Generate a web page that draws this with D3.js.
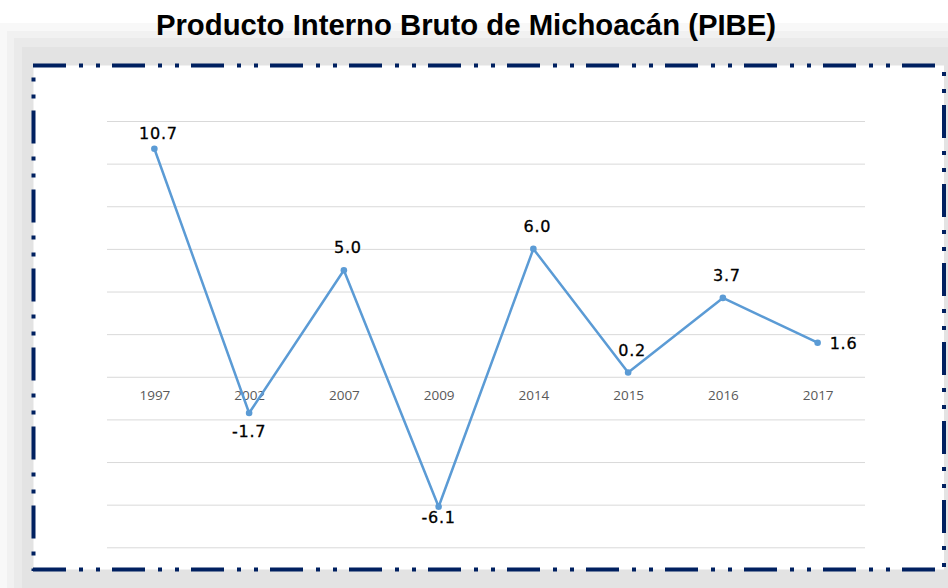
<!DOCTYPE html>
<html>
<head>
<meta charset="utf-8">
<script src="https://cdn.jsdelivr.net/npm/d3@7"></script>
<style>
  html, body { margin: 0; padding: 0; background: #ffffff; }
  svg { display: block; }
</style>
</head>
<body>
<svg id="chart" width="948" height="588"></svg>
<script>
const title = "Producto Interno Bruto de Michoacán (PIBE)";
const years = ["1997", "2002", "2007", "2009", "2014", "2015", "2016", "2017"];
const pibe = [10.7, -1.7, 5.0, -6.1, 6.0, 0.2, 3.7, 1.6];
const labelSide = ["top", "bottom", "top", "bottom", "top", "top", "top", "right"];
const gridTicks = [-8, -6, -4, -2, 0, 2, 4, 6, 8, 10, 12];

(function () {
const svg = d3.select("#chart");

// soft grey frame behind the card
const layers = [
  {x: 0,  y: 23, c: "#f8f8f8"},
  {x: 7,  y: 31, c: "#f1f1f1"},
  {x: 14, y: 38, c: "#eaeaea"},
  {x: 22, y: 47, c: "#e3e3e3"}
];
layers.forEach(l => {
  svg.append("rect").attr("x", l.x).attr("y", l.y)
    .attr("width", 948 - l.x).attr("height", 588 - l.y).attr("fill", l.c);
});

// white card
const card = {x0: 33.5, y0: 65.5, x1: 944, y1: 569.5};
svg.append("rect").attr("x", card.x0).attr("y", card.y0)
  .attr("width", card.x1 - card.x0).attr("height", card.y1 - card.y0)
  .attr("fill", "#ffffff");

// title
svg.append("text")
  .attr("x", 466).attr("y", 35)
  .attr("text-anchor", "middle")
  .attr("font-family", "'Liberation Sans', Arial, sans-serif")
  .attr("font-weight", "bold")
  .attr("font-size", 29.3)
  .attr("fill", "#000000")
  .text(title);

// scales
const x = d3.scalePoint().domain(years).range([107, 865]).padding(0.5);
const y = d3.scaleLinear().domain([-8, 12]).range([547.3, 121]);

// gridlines
const grid = svg.append("g").attr("transform", "translate(107,0)")
  .call(d3.axisLeft(y).tickValues(gridTicks).tickSize(-(865 - 107)).tickFormat(""));
grid.select(".domain").remove();
grid.selectAll(".tick line").attr("stroke", "#d9d9d9").attr("stroke-width", 1);

// category axis at zero
const xAxis = svg.append("g").attr("transform", `translate(0,${y(0)})`)
  .call(d3.axisBottom(x).tickSize(0).tickPadding(14));
xAxis.select(".domain").remove();
xAxis.selectAll(".tick text")
  .attr("font-family", "'Open Sans', 'Liberation Sans', sans-serif")
  .attr("font-size", 13.5)
  .attr("fill", "#595959");

// line
const data = years.map((yr, i) => ({yr, v: pibe[i], side: labelSide[i]}));
svg.append("path").datum(data)
  .attr("fill", "none")
  .attr("stroke", "#5b9bd5")
  .attr("stroke-width", 2.5)
  .attr("stroke-linejoin", "round")
  .attr("d", d3.line().x(d => x(d.yr)).y(d => y(d.v)));

svg.selectAll("circle.pt").data(data).enter().append("circle")
  .attr("class", "pt")
  .attr("cx", d => x(d.yr)).attr("cy", d => y(d.v))
  .attr("r", 3.3).attr("fill", "#5b9bd5");

// data labels (kept inside the plot area)
const plotTop = y.range()[1], plotBottom = y.range()[0];
function labelY(d) {
  const py = y(d.v);
  if (d.side === "top") return Math.max(py - 17, plotTop + 18);
  if (d.side === "bottom") return Math.min(py + 24, plotBottom - 24);
  return py + 6;
}
svg.selectAll("text.lbl").data(data).enter().append("text")
  .attr("class", "lbl")
  .attr("x", d => d.side === "right" ? x(d.yr) + 12 : x(d.yr) + (d.side === "top" ? 4 : 0))
  .attr("y", labelY)
  .attr("text-anchor", d => d.side === "right" ? "start" : "middle")
  .attr("font-family", "'DejaVu Sans', sans-serif")
  .attr("font-size", 16)
  .attr("letter-spacing", 0.8)
  .attr("fill", "#000000")
  .attr("stroke", "#000000")
  .attr("stroke-width", 0.3)
  .text(d => d.v.toFixed(1));

// dash-dot border
const dash = "33 13 4 13 4 12";
const border = svg.append("g").attr("stroke", "#002060").attr("stroke-width", 4).attr("fill", "none");
border.append("line").attr("x1", 33).attr("x2", 944).attr("y1", card.y0).attr("y2", card.y0)
  .attr("stroke-dasharray", dash);
border.append("line").attr("x1", 33).attr("x2", 944).attr("y1", card.y1).attr("y2", card.y1)
  .attr("stroke-dasharray", dash);
border.append("line").attr("x1", card.x0).attr("x2", card.x0).attr("y1", 65).attr("y2", 571)
  .attr("stroke-dasharray", dash).attr("stroke-dashoffset", 33.5);
border.append("line").attr("x1", card.x1).attr("x2", card.x1).attr("y1", 65).attr("y2", 571)
  .attr("stroke-dasharray", dash).attr("stroke-dashoffset", 39);
})();
</script>
</body>
</html>
